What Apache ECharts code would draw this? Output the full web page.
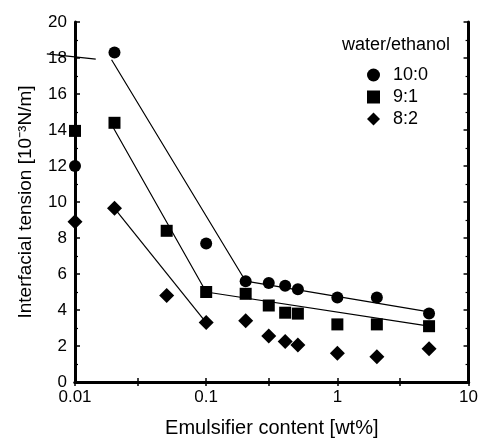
<!DOCTYPE html>
<html><head><meta charset="utf-8">
<script src="https://cdn.jsdelivr.net/npm/echarts@6/dist/echarts.min.js"></script>
<style>html,body{margin:0;padding:0;background:#fff}#c{width:481px;height:443px}</style>
</head><body><div id="c"></div>
<script>
// ---- data ----
const xTickValues = [0.01, 0.03, 0.1, 0.3, 1, 3, 10];
const xLabelValues = [0.01, 0.1, 1, 10];
const seriesNames = ['10:0', '9:1', '8:2'];
const conc = [0.01, 0.02, 0.05, 0.1, 0.2, 0.3, 0.4, 0.5, 1, 2, 5];
const tension100 = [12.0, 18.3, null, 7.7, 5.6, 5.5, 5.35, 5.15, 4.7, 4.7, 3.8];
const tension91  = [13.95, 14.4, 8.4, 5.0, 4.9, 4.25, 3.85, 3.8, 3.2, 3.2, 3.1];
const tension82  = [8.9, 9.65, 4.8, 3.3, 3.4, 2.55, 2.25, 2.05, 1.6, 1.4, 1.85];
// guide lines (x, y) pairs
const guide100 = [[0.019, 17.9], [0.2, 5.6], [5, 3.9]];
const guide91  = [[0.0195, 14.15], [0.1, 5.0], [5, 3.1]];
const guide82  = [[0.02, 9.65], [0.1, 3.3]];
const strayLine = [[0.0061, 18.23], [0.0144, 17.94]];

const FONT = '"Liberation Sans", Arial, sans-serif';
const pairs = (ys) => conc.map((x, i) => [x, ys[i]]).filter(p => p[1] != null);

const chart = echarts.init(document.getElementById('c'), null, {renderer: 'canvas'});
const axisLine = {show: true, lineStyle: {color: '#000', width: 3}};
const xAxisBase = {
  type: 'log', logBase: 10, min: 0.01, max: 10,
  axisLine, splitLine: {show: false},
  axisTick: {show: true, inside: true, length: 4, lineStyle: {color: '#000', width: 1.5}, customValues: xTickValues},
  minorTick: {show: false}
};
const yAxisBase = {
  type: 'value', min: 0, max: 20, interval: 2,
  axisLine, splitLine: {show: false},
  axisTick: {show: true, inside: true, length: 5, lineStyle: {color: '#000', width: 1.5}},
  minorTick: {show: true, splitNumber: 2, length: 3, lineStyle: {color: '#000', width: 1.2}}
};
chart.setOption({
  animation: false,
  backgroundColor: '#fff',
  grid: {left: 75, right: 12, top: 22, bottom: 56, containLabel: false},
  xAxis: [
    Object.assign({}, xAxisBase, {
      position: 'bottom',
      name: 'Emulsifier content [wt%]', nameLocation: 'middle', nameGap: 36,
      nameTextStyle: {fontSize: 20, color: '#000', fontFamily: FONT},
      axisLabel: {show: true, color: '#000', fontSize: 17, fontFamily: FONT, margin: 7,
        customValues: xLabelValues, formatter: v => String(+(+v).toPrecision(3))}
    }),
    Object.assign({}, xAxisBase, {position: 'top', axisLabel: {show: false}})
  ],
  yAxis: [
    Object.assign({}, yAxisBase, {
      position: 'left',
      name: 'Interfacial tension [10\u207B\u00B3N/m]', nameLocation: 'middle', nameGap: 40, nameRotate: 90,
      nameTextStyle: {fontSize: 19, color: '#000', fontFamily: FONT},
      axisLabel: {show: true, color: '#000', fontSize: 17, fontFamily: FONT, margin: 8}
    }),
    Object.assign({}, yAxisBase, {position: 'right', axisLabel: {show: false}})
  ],
  legend: {
    orient: 'vertical', left: 367, top: 66, padding: 0,
    itemWidth: 13, itemHeight: 13, itemGap: 4, selectedMode: false,
    textStyle: {fontSize: 18, color: '#000', fontFamily: FONT, lineHeight: 13, padding: [0, 0, 0, 8]},
    data: [
      {name: seriesNames[0], icon: 'circle'},
      {name: seriesNames[1], icon: 'rect'},
      {name: seriesNames[2], icon: 'diamond'}
    ]
  },
  series: [
    {type: 'line', data: guide100, symbol: 'none', lineStyle: {color: '#000', width: 1.2}, z: 2, silent: true},
    {type: 'line', data: guide91, symbol: 'none', lineStyle: {color: '#000', width: 1.2}, z: 2, silent: true},
    {type: 'line', data: guide82, symbol: 'none', lineStyle: {color: '#000', width: 1.2}, z: 2, silent: true},
    {name: seriesNames[0], type: 'scatter', data: pairs(tension100), symbol: 'circle', symbolSize: 12, clip: false, itemStyle: {color: '#000', opacity: 1}, z: 3},
    {name: seriesNames[1], type: 'scatter', data: pairs(tension91), symbol: 'rect', symbolSize: 12, clip: false, itemStyle: {color: '#000', opacity: 1}, z: 3},
    {name: seriesNames[2], type: 'scatter', data: pairs(tension82), symbol: 'diamond', symbolSize: 15, clip: false, itemStyle: {color: '#000', opacity: 1}, z: 3}
  ]
});

// stray annotation line: map through the axis scale, extrapolating the log axis below its minimum
const toPx = (x, y) => {
  const a = chart.convertToPixel({xAxisIndex: 0, yAxisIndex: 0}, [0.01, y]);
  const b = chart.convertToPixel({xAxisIndex: 0, yAxisIndex: 0}, [0.1, y]);
  return [a[0] + (Math.log10(x) + 2) * (b[0] - a[0]), a[1]];
};
const s0 = toPx(strayLine[0][0], strayLine[0][1]);
const s1 = toPx(strayLine[1][0], strayLine[1][1]);
chart.setOption({
  graphic: [{
    type: 'text', left: 342, top: 36,
    style: {text: 'water/ethanol', fontSize: 18, fontFamily: FONT, fill: '#000'}
  }, {
    type: 'line', z: 10,
    shape: {x1: s0[0], y1: s0[1], x2: s1[0], y2: s1[1]},
    style: {stroke: '#000', lineWidth: 1.2}
  }]
});
</script>
</body></html>
